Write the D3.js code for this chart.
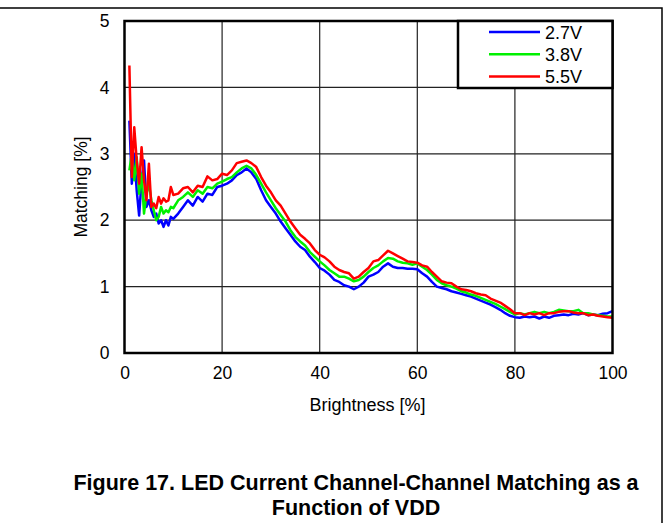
<!DOCTYPE html>
<html>
<head>
<meta charset="utf-8">
<script src="https://cdn.jsdelivr.net/npm/d3@7"></script>
<style>
  body { margin: 0; background: #fff; }
  svg text { font-family: "Liberation Sans", Arial, sans-serif; fill: #000; }
</style>
</head>
<body>
<svg id="chart" width="669" height="523"></svg>
<script>
// brightness (%) sample points, finer in the noisy low end
const brightness = [1, 1.5, 2, 2.5, 3, 3.5, 4, 4.5, 5, 5.5, 6, 6.5, 7, 7.5, 8, 8.5, 9, 9.5, 10]
    .concat(d3.range(11, 101));

const v27 = [3.5, 2.55, 3.0, 2.45, 2.07, 2.6, 2.9, 2.2, 2.3, 2.15, 2.05, 2.1, 1.95, 2.0, 1.9, 2.0, 1.92, 2.05, 2.02,
    2.1, 2.2, 2.3, 2.22, 2.35, 2.28, 2.4, 2.38, 2.5, 2.52,
    2.55, 2.6, 2.68, 2.72, 2.78, 2.72, 2.62, 2.45, 2.3, 2.2,
    2.1, 1.98, 1.88, 1.78, 1.68, 1.6, 1.55, 1.45, 1.37, 1.28,
    1.24, 1.18, 1.1, 1.07, 1.02, 1.0, 0.96, 1.0, 1.06, 1.15,
    1.18, 1.22, 1.3, 1.35, 1.3, 1.28, 1.28, 1.27, 1.27, 1.26,
    1.2, 1.15, 1.07, 1.0, 0.98, 0.96, 0.93, 0.91, 0.89, 0.87,
    0.85, 0.82, 0.79, 0.76, 0.73, 0.69, 0.65, 0.6, 0.56, 0.54,
    0.53, 0.55, 0.54, 0.55, 0.52, 0.55, 0.53, 0.56, 0.57, 0.58,
    0.57, 0.59, 0.58, 0.6, 0.57, 0.58, 0.57, 0.59, 0.6, 0.63];

const v38 = [2.75, 3.0, 2.6, 2.95, 2.4, 2.7, 2.1, 2.4, 2.55, 2.3, 2.15, 2.0, 2.05, 2.2, 2.1, 2.15, 2.12, 2.2, 2.18,
    2.3, 2.35, 2.42, 2.35, 2.45, 2.4, 2.5, 2.48, 2.55, 2.58,
    2.62, 2.65, 2.72, 2.78, 2.82, 2.78, 2.68, 2.55, 2.42, 2.3,
    2.18, 2.08, 1.98, 1.85, 1.75, 1.68, 1.62, 1.52, 1.45, 1.38,
    1.32, 1.25, 1.2, 1.15, 1.15, 1.12, 1.08, 1.1, 1.15, 1.22,
    1.28, 1.32, 1.38, 1.43, 1.42, 1.38, 1.36, 1.35, 1.33, 1.35,
    1.3, 1.25, 1.18, 1.1, 1.05, 1.02, 1.0, 0.97, 0.93, 0.91,
    0.88, 0.86, 0.83, 0.8, 0.77, 0.74, 0.7, 0.66, 0.62, 0.58,
    0.6, 0.58, 0.6, 0.62, 0.6, 0.62, 0.6, 0.62, 0.65, 0.64,
    0.63, 0.63, 0.65, 0.6, 0.6, 0.58, 0.57, 0.56, 0.55, 0.55];

const v55 = [4.33, 2.65, 3.4, 2.9, 2.55, 3.1, 2.6, 2.3, 2.85, 2.2, 2.25, 2.18, 2.35, 2.25, 2.33, 2.28, 2.3, 2.5, 2.38,
    2.4, 2.48, 2.5, 2.42, 2.52, 2.5, 2.66, 2.6, 2.62, 2.7,
    2.68, 2.75, 2.86, 2.88, 2.9, 2.86, 2.8, 2.65, 2.52, 2.42,
    2.3, 2.22, 2.1, 1.98, 1.88, 1.78, 1.72, 1.65, 1.55, 1.48,
    1.44, 1.38, 1.3, 1.25, 1.22, 1.2, 1.12, 1.15, 1.22, 1.28,
    1.38, 1.4, 1.47, 1.54, 1.5, 1.46, 1.42, 1.38, 1.37, 1.36,
    1.32, 1.3, 1.22, 1.15, 1.08, 1.06, 1.05, 1.0, 0.96, 0.95,
    0.93, 0.9, 0.88, 0.87, 0.82, 0.79, 0.76, 0.71, 0.66, 0.6,
    0.6, 0.57, 0.6, 0.58, 0.6, 0.57, 0.6, 0.6, 0.62, 0.63,
    0.63, 0.61, 0.6, 0.6, 0.57, 0.58, 0.56, 0.55, 0.54, 0.53];

const seriesNames = ["2.7V", "3.8V", "5.5V"];
const seriesColors = ["#0000ff", "#00f000", "#ff0000"];
const xTicks = [0, 20, 40, 60, 80, 100];
const yTicks = [0, 1, 2, 3, 4, 5];

const svg = d3.select("#chart");
const plotLeft = 124.5, plotRight = 612.5, plotTop = 21, plotBottom = 353;

const x = d3.scaleLinear().domain([0, 100]).range([plotLeft, plotRight]);
const y = d3.scaleLinear().domain([0, 5]).range([plotBottom, plotTop]);

// page frame
svg.append("path")
    .attr("d", "M0,8H662V523")
    .attr("fill", "none").attr("stroke", "#000").attr("stroke-width", 1.5);

// grid
svg.append("g").selectAll("line").data(xTicks.slice(1, -1)).enter().append("line")
    .attr("x1", d => x(d)).attr("x2", d => x(d))
    .attr("y1", plotTop).attr("y2", plotBottom)
    .attr("stroke", "#222").attr("stroke-width", 1.2);
svg.append("g").selectAll("line").data(yTicks.slice(1, -1)).enter().append("line")
    .attr("x1", plotLeft).attr("x2", plotRight)
    .attr("y1", d => y(d)).attr("y2", d => y(d))
    .attr("stroke", "#222").attr("stroke-width", 1.2);

// tick labels via d3 axes, with lines hidden
const xAxis = svg.append("g").attr("transform", `translate(0,${plotBottom})`)
    .call(d3.axisBottom(x).tickValues(xTicks).tickFormat(d3.format("d")).tickSize(0).tickPadding(14));
const yAxis = svg.append("g").attr("transform", `translate(${plotLeft},0)`)
    .call(d3.axisLeft(y).tickValues(yTicks).tickFormat(d3.format("d")).tickSize(0).tickPadding(15));
[xAxis, yAxis].forEach(a => {
    a.select(".domain").remove();
    a.selectAll("text").attr("font-size", 17.5).attr("font-family", "Liberation Sans, Arial, sans-serif");
});

// data lines
const line = d3.line()
    .x((d, i) => x(brightness[i]))
    .y(d => y(d));
[v27, v38, v55].forEach((vals, k) => {
    svg.append("path")
        .datum(vals)
        .attr("fill", "none")
        .attr("stroke", seriesColors[k])
        .attr("stroke-width", 2.5)
        .attr("stroke-linejoin", "round")
        .attr("d", line);
});

// plot frame
svg.append("rect")
    .attr("x", plotLeft).attr("y", plotTop)
    .attr("width", plotRight - plotLeft).attr("height", plotBottom - plotTop)
    .attr("fill", "none").attr("stroke", "#000").attr("stroke-width", 2.5);

// legend
const legend = svg.append("g");
legend.append("rect")
    .attr("x", 458).attr("y", plotTop).attr("width", plotRight - 458).attr("height", 67)
    .attr("fill", "#fff").attr("stroke", "#000").attr("stroke-width", 2.5);
seriesNames.forEach((name, k) => {
    const ly = 32 + k * 22.3;
    legend.append("line")
        .attr("x1", 489).attr("x2", 540).attr("y1", ly).attr("y2", ly)
        .attr("stroke", seriesColors[k]).attr("stroke-width", 2.5);
    legend.append("text")
        .attr("x", 545).attr("y", ly + 6.5)
        .attr("font-size", 18)
        .text(name);
});

// axis titles
svg.append("text")
    .attr("x", 367.5).attr("y", 411)
    .attr("text-anchor", "middle").attr("font-size", 18)
    .text("Brightness [%]");
svg.append("text")
    .attr("transform", "translate(86.5,187) rotate(-90)")
    .attr("text-anchor", "middle").attr("font-size", 17.5)
    .text("Matching [%]");

// caption
svg.append("text")
    .attr("x", 356).attr("y", 489.5)
    .attr("text-anchor", "middle").attr("font-size", 21.5).attr("font-weight", "bold")
    .text("Figure 17. LED Current Channel-Channel Matching as a");
svg.append("text")
    .attr("x", 356).attr("y", 515)
    .attr("text-anchor", "middle").attr("font-size", 21.5).attr("font-weight", "bold")
    .text("Function of VDD");
</script>
</body>
</html>
